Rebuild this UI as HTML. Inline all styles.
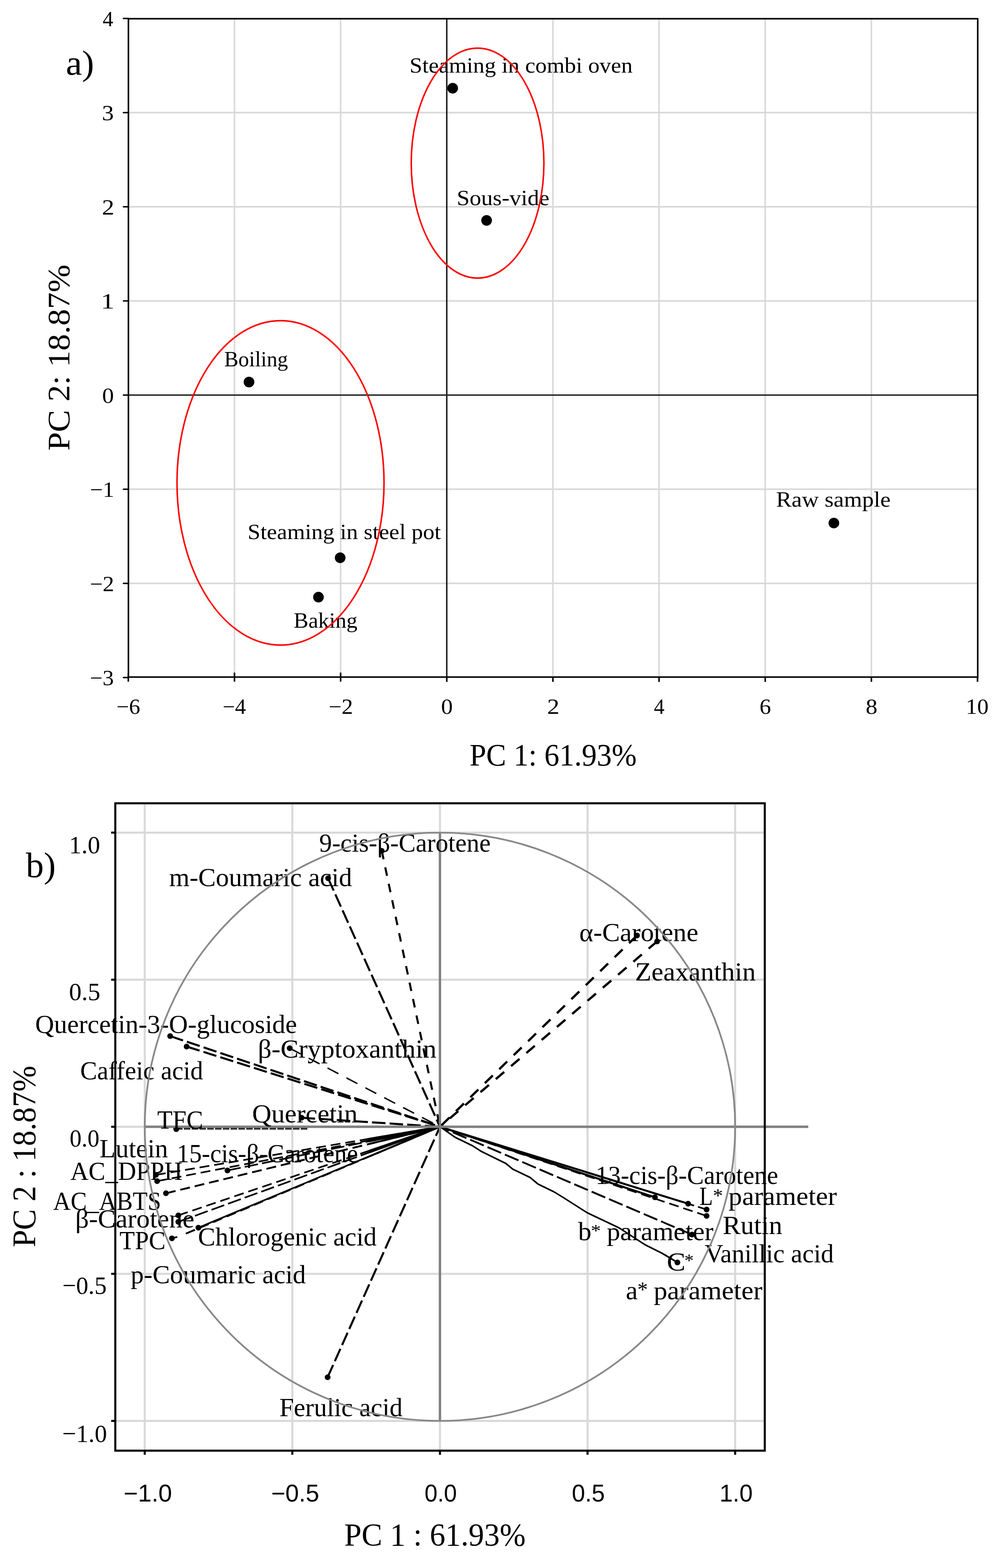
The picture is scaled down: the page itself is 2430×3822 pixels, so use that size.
<!DOCTYPE html>
<html><head><meta charset="utf-8"><style>
html,body{margin:0;padding:0;background:#fff;overflow:hidden;}
svg{display:block;}
</style></head><body>
<svg width="2430" height="3822" viewBox="0 0 2430 3822">
<rect width="2430" height="3822" fill="#fff"/>
<line x1="571.5" y1="45.7" x2="571.5" y2="1650.4" stroke="#d9d9d9" stroke-width="3.8"/>
<line x1="830.2" y1="45.7" x2="830.2" y2="1650.4" stroke="#d9d9d9" stroke-width="3.8"/>
<line x1="1347.6" y1="45.7" x2="1347.6" y2="1650.4" stroke="#d9d9d9" stroke-width="3.8"/>
<line x1="1606.3" y1="45.7" x2="1606.3" y2="1650.4" stroke="#d9d9d9" stroke-width="3.8"/>
<line x1="1865.1" y1="45.7" x2="1865.1" y2="1650.4" stroke="#d9d9d9" stroke-width="3.8"/>
<line x1="2123.8" y1="45.7" x2="2123.8" y2="1650.4" stroke="#d9d9d9" stroke-width="3.8"/>
<line x1="313.0" y1="274.5" x2="2383.0" y2="274.5" stroke="#d9d9d9" stroke-width="3.8"/>
<line x1="313.0" y1="504.0" x2="2383.0" y2="504.0" stroke="#d9d9d9" stroke-width="3.8"/>
<line x1="313.0" y1="733.5" x2="2383.0" y2="733.5" stroke="#d9d9d9" stroke-width="3.8"/>
<line x1="313.0" y1="1192.5" x2="2383.0" y2="1192.5" stroke="#d9d9d9" stroke-width="3.8"/>
<line x1="313.0" y1="1422.0" x2="2383.0" y2="1422.0" stroke="#d9d9d9" stroke-width="3.8"/>
<line x1="1088.9" y1="45.7" x2="1088.9" y2="1650.4" stroke="#222" stroke-width="3.7"/>
<line x1="313.0" y1="963.0" x2="2383.0" y2="963.0" stroke="#222" stroke-width="3.7"/>
<path d="M313 45.7 H2383 V1650.4 H313 Z" fill="none" stroke="#000" stroke-width="3.8"/>
<line x1="301.0" y1="1651.5" x2="313.0" y2="1651.5" stroke="#000" stroke-width="3.7" stroke-linecap="round"/>
<line x1="301.0" y1="1422.0" x2="313.0" y2="1422.0" stroke="#000" stroke-width="3.7" stroke-linecap="round"/>
<line x1="301.0" y1="1192.5" x2="313.0" y2="1192.5" stroke="#000" stroke-width="3.7" stroke-linecap="round"/>
<line x1="301.0" y1="963.0" x2="313.0" y2="963.0" stroke="#000" stroke-width="3.7" stroke-linecap="round"/>
<line x1="301.0" y1="733.5" x2="313.0" y2="733.5" stroke="#000" stroke-width="3.7" stroke-linecap="round"/>
<line x1="301.0" y1="504.0" x2="313.0" y2="504.0" stroke="#000" stroke-width="3.7" stroke-linecap="round"/>
<line x1="301.0" y1="274.5" x2="313.0" y2="274.5" stroke="#000" stroke-width="3.7" stroke-linecap="round"/>
<line x1="301.0" y1="45.0" x2="313.0" y2="45.0" stroke="#000" stroke-width="3.7" stroke-linecap="round"/>
<line x1="312.7" y1="1641.0" x2="312.7" y2="1660.0" stroke="#000" stroke-width="3.8" stroke-linecap="round"/>
<line x1="571.5" y1="1641.0" x2="571.5" y2="1660.0" stroke="#000" stroke-width="3.8" stroke-linecap="round"/>
<line x1="830.2" y1="1641.0" x2="830.2" y2="1660.0" stroke="#000" stroke-width="3.8" stroke-linecap="round"/>
<line x1="1088.9" y1="1650.0" x2="1088.9" y2="1662.0" stroke="#000" stroke-width="3.8"/>
<line x1="1347.6" y1="1650.0" x2="1347.6" y2="1662.0" stroke="#000" stroke-width="3.8"/>
<line x1="1606.3" y1="1650.0" x2="1606.3" y2="1662.0" stroke="#000" stroke-width="3.8"/>
<line x1="1865.1" y1="1650.0" x2="1865.1" y2="1662.0" stroke="#000" stroke-width="3.8"/>
<line x1="2123.8" y1="1650.0" x2="2123.8" y2="1662.0" stroke="#000" stroke-width="3.8"/>
<line x1="2382.5" y1="1650.0" x2="2382.5" y2="1662.0" stroke="#000" stroke-width="3.8"/>
<circle cx="1103.3" cy="215" r="13" fill="#000"/>
<circle cx="1186" cy="537.2" r="13" fill="#000"/>
<circle cx="606.9" cy="931.3" r="13" fill="#000"/>
<circle cx="829.1" cy="1359.6" r="13" fill="#000"/>
<circle cx="776.2" cy="1455.6" r="13" fill="#000"/>
<circle cx="2032.4" cy="1274.9" r="13" fill="#000"/>
<text x="998.2" y="176.8" font-size="53" font-family='"Liberation Serif", serif' textLength="543.6" lengthAdjust="spacingAndGlyphs" fill="#000">Steaming in combi oven</text>
<text x="1113.2" y="499.5" font-size="53" font-family='"Liberation Serif", serif' textLength="225.9" lengthAdjust="spacingAndGlyphs" fill="#000">Sous-vide</text>
<text x="546.5" y="892.5" font-size="53" font-family='"Liberation Serif", serif' textLength="155.5" lengthAdjust="spacingAndGlyphs" fill="#000">Boiling</text>
<text x="603.6" y="1314.3" font-size="53" font-family='"Liberation Serif", serif' textLength="470.9" lengthAdjust="spacingAndGlyphs" fill="#000">Steaming in steel pot</text>
<text x="715.8" y="1530.1" font-size="53" font-family='"Liberation Serif", serif' textLength="155.5" lengthAdjust="spacingAndGlyphs" fill="#000">Baking</text>
<text x="1891.4" y="1234.9" font-size="53" font-family='"Liberation Serif", serif' textLength="279.3" lengthAdjust="spacingAndGlyphs" fill="#000">Raw sample</text>
<text x="219.0" y="1670.4" font-size="52" font-family='"Liberation Serif", serif' textLength="58.4" lengthAdjust="spacingAndGlyphs" fill="#000">−3</text>
<text x="218.9" y="1440.9" font-size="52" font-family='"Liberation Serif", serif' textLength="59.3" lengthAdjust="spacingAndGlyphs" fill="#000">−2</text>
<text x="218.9" y="1211.4" font-size="52" font-family='"Liberation Serif", serif' textLength="59.6" lengthAdjust="spacingAndGlyphs" fill="#000">−1</text>
<text x="248.9" y="981.9" font-size="52" font-family='"Liberation Serif", serif' textLength="28.6" lengthAdjust="spacingAndGlyphs" fill="#000">0</text>
<text x="245.5" y="752.4" font-size="52" font-family='"Liberation Serif", serif' textLength="33.8" lengthAdjust="spacingAndGlyphs" fill="#000">1</text>
<text x="248.5" y="522.9" font-size="52" font-family='"Liberation Serif", serif' textLength="30.0" lengthAdjust="spacingAndGlyphs" fill="#000">2</text>
<text x="248.6" y="293.4" font-size="52" font-family='"Liberation Serif", serif' textLength="28.9" lengthAdjust="spacingAndGlyphs" fill="#000">3</text>
<text x="250.2" y="63.9" font-size="52" font-family='"Liberation Serif", serif' textLength="25.8" lengthAdjust="spacingAndGlyphs" fill="#000">4</text>
<text x="283.8" y="1740.3" font-size="52" font-family='"Liberation Serif", serif' textLength="57.8" lengthAdjust="spacingAndGlyphs" fill="#000">−6</text>
<text x="542.5" y="1740.3" font-size="52" font-family='"Liberation Serif", serif' textLength="56.9" lengthAdjust="spacingAndGlyphs" fill="#000">−4</text>
<text x="801.1" y="1740.3" font-size="52" font-family='"Liberation Serif", serif' textLength="59.3" lengthAdjust="spacingAndGlyphs" fill="#000">−2</text>
<text x="1075.1" y="1740.3" font-size="52" font-family='"Liberation Serif", serif' textLength="28.6" lengthAdjust="spacingAndGlyphs" fill="#000">0</text>
<text x="1333.4" y="1740.3" font-size="52" font-family='"Liberation Serif", serif' textLength="30.0" lengthAdjust="spacingAndGlyphs" fill="#000">2</text>
<text x="1593.8" y="1740.3" font-size="52" font-family='"Liberation Serif", serif' textLength="25.8" lengthAdjust="spacingAndGlyphs" fill="#000">4</text>
<text x="1851.3" y="1740.3" font-size="52" font-family='"Liberation Serif", serif' textLength="27.9" lengthAdjust="spacingAndGlyphs" fill="#000">6</text>
<text x="2110.0" y="1740.3" font-size="52" font-family='"Liberation Serif", serif' textLength="28.6" lengthAdjust="spacingAndGlyphs" fill="#000">8</text>
<text x="2354.0" y="1740.3" font-size="52" font-family='"Liberation Serif", serif' textLength="55.5" lengthAdjust="spacingAndGlyphs" fill="#000">10</text>
<text x="1144.4" y="1865.7" font-size="77" font-family='"Liberation Serif", serif' textLength="407.3" lengthAdjust="spacingAndGlyphs" fill="#000">PC 1: 61.93%</text>
<text transform="translate(169.1 1098.4) rotate(-90)" x="0" y="0" font-size="77" font-family='"Liberation Serif", serif' textLength="453.5" lengthAdjust="spacingAndGlyphs">PC 2: 18.87%</text>
<text x="160.4" y="182.3" font-size="85" font-family='"Liberation Serif", serif' textLength="69.1" lengthAdjust="spacingAndGlyphs" fill="#000">a)</text>
<ellipse cx="1164" cy="397.6" rx="161.7" ry="280.2" fill="none" stroke="#f00" stroke-width="3.7"/>
<ellipse cx="683.7" cy="1177" rx="252.3" ry="395.4" fill="none" stroke="#f00" stroke-width="3.7"/>
<line x1="352.8" y1="1958.0" x2="352.8" y2="3536.0" stroke="#d9d9d9" stroke-width="5"/>
<line x1="712.5" y1="1958.0" x2="712.5" y2="3536.0" stroke="#d9d9d9" stroke-width="5"/>
<line x1="1432.0" y1="1958.0" x2="1432.0" y2="3536.0" stroke="#d9d9d9" stroke-width="5"/>
<line x1="1791.8" y1="1958.0" x2="1791.8" y2="3536.0" stroke="#d9d9d9" stroke-width="5"/>
<line x1="281.0" y1="2029.5" x2="1864.0" y2="2029.5" stroke="#d9d9d9" stroke-width="5"/>
<line x1="281.0" y1="2388.0" x2="1864.0" y2="2388.0" stroke="#d9d9d9" stroke-width="5"/>
<line x1="281.0" y1="3105.0" x2="1864.0" y2="3105.0" stroke="#d9d9d9" stroke-width="5"/>
<line x1="281.0" y1="3463.5" x2="1864.0" y2="3463.5" stroke="#d9d9d9" stroke-width="5"/>
<line x1="1072.3" y1="1958.0" x2="1072.3" y2="3536.0" stroke="#d9d9d9" stroke-width="5"/>
<line x1="281.0" y1="2746.5" x2="1864.0" y2="2746.5" stroke="#d9d9d9" stroke-width="5"/>
<line x1="1072.3" y1="2746.5" x2="899.8" y2="2775.7" stroke="#000" stroke-width="4.5"/>
<line x1="1072.3" y1="2746.5" x2="899.9" y2="2779.6" stroke="#000" stroke-width="4.5"/>
<line x1="1072.3" y1="2746.5" x2="899.9" y2="2782.0" stroke="#000" stroke-width="4.5"/>
<line x1="1072.3" y1="2746.5" x2="899.9" y2="2788.4" stroke="#000" stroke-width="4.5"/>
<line x1="1072.3" y1="2746.5" x2="899.9" y2="2804.9" stroke="#000" stroke-width="4.5"/>
<line x1="1072.3" y1="2746.5" x2="899.9" y2="2809.2" stroke="#000" stroke-width="4.5"/>
<line x1="1072.3" y1="2746.5" x2="899.9" y2="2819.0" stroke="#000" stroke-width="4.5"/>
<polyline points="1072,2746 1109,2772 1152,2793 1172,2806 1233,2836 1250,2850 1292,2870 1311,2886 1350,2905 1373,2919 1431,2956 1509,2993 1572,3034 1614,3055 1651,3077" fill="none" stroke="#000" stroke-width="3.8" stroke-linejoin="round"/>
<circle cx="1651" cy="3077.2" r="7" fill="#000"/>
<line x1="453.0" y1="3007.0" x2="1072.3" y2="2746.5" stroke="#000" stroke-width="4.5" stroke-dasharray="24 12"/>
<line x1="419.0" y1="3018.4" x2="432.0" y2="3015.0" stroke="#000" stroke-width="4"/>
<circle cx="419" cy="3018.4" r="7" fill="#000"/>
<line x1="429.0" y1="2751.0" x2="752.0" y2="2751.0" stroke="#2a2a2a" stroke-width="5" stroke-dasharray="16 3"/>
<circle cx="429.6" cy="2752.3" r="7" fill="#000"/>
<line x1="930.5" y1="2074.0" x2="1072.3" y2="2746.5" stroke="#000" stroke-width="5" stroke-dasharray="21 20"/>
<circle cx="930.5" cy="2074" r="7" fill="#000"/>
<line x1="799.7" y1="2140.7" x2="1072.3" y2="2746.5" stroke="#000" stroke-width="5" stroke-dasharray="33 10"/>
<circle cx="799.7" cy="2140.7" r="7" fill="#000"/>
<line x1="1552.6" y1="2280.2" x2="1072.3" y2="2746.5" stroke="#000" stroke-width="5.5" stroke-dasharray="27 22"/>
<circle cx="1552.6" cy="2280.2" r="7" fill="#000"/>
<line x1="1601.6" y1="2294.7" x2="1072.3" y2="2746.5" stroke="#000" stroke-width="5.5" stroke-dasharray="27 22"/>
<circle cx="1601.6" cy="2294.7" r="7" fill="#000"/>
<line x1="414.7" y1="2525.5" x2="1072.3" y2="2746.5" stroke="#000" stroke-width="5" stroke-dasharray="33 10"/>
<circle cx="414.7" cy="2525.5" r="7" fill="#000"/>
<line x1="454.9" y1="2551.0" x2="1072.3" y2="2746.5" stroke="#000" stroke-width="5" stroke-dasharray="33 10"/>
<circle cx="454.9" cy="2551" r="7" fill="#000"/>
<line x1="706.1" y1="2555.1" x2="1072.3" y2="2746.5" stroke="#000" stroke-width="3.5" stroke-dasharray="30 22"/>
<circle cx="706.1" cy="2555.1" r="7" fill="#000"/>
<line x1="735.0" y1="2724.5" x2="1072.3" y2="2746.5" stroke="#000" stroke-width="5" stroke-dasharray="33 10"/>
<circle cx="735" cy="2724.5" r="7" fill="#000"/>
<line x1="380.0" y1="2863.8" x2="1072.3" y2="2746.5" stroke="#000" stroke-width="4" stroke-dasharray="24 12"/>
<circle cx="380" cy="2863.8" r="7" fill="#000"/>
<line x1="383.0" y1="2879.0" x2="1072.3" y2="2746.5" stroke="#000" stroke-width="4" stroke-dasharray="24 12"/>
<circle cx="383" cy="2879" r="7" fill="#000"/>
<line x1="554.3" y1="2853.0" x2="1072.3" y2="2746.5" stroke="#000" stroke-width="4" stroke-dasharray="33 10"/>
<circle cx="554.3" cy="2853" r="7" fill="#000"/>
<line x1="404.5" y1="2908.6" x2="1072.3" y2="2746.5" stroke="#000" stroke-width="4.5" stroke-dasharray="24 12"/>
<circle cx="404.5" cy="2908.6" r="7" fill="#000"/>
<line x1="434.7" y1="2962.4" x2="1072.3" y2="2746.5" stroke="#000" stroke-width="4" stroke-dasharray="24 12"/>
<circle cx="434.7" cy="2962.4" r="7" fill="#000"/>
<line x1="434.7" y1="2978.2" x2="1072.3" y2="2746.5" stroke="#000" stroke-width="4" stroke-dasharray="33 10"/>
<circle cx="434.7" cy="2978.2" r="7" fill="#000"/>
<line x1="483.5" y1="2992.5" x2="1072.3" y2="2746.5" stroke="#000" stroke-width="4"/>
<circle cx="483.5" cy="2992.5" r="7" fill="#000"/>
<line x1="798.5" y1="3357.1" x2="1072.3" y2="2746.5" stroke="#000" stroke-width="5" stroke-dasharray="33 10"/>
<circle cx="798.5" cy="3357.1" r="7" fill="#000"/>
<line x1="1596.2" y1="2918.4" x2="1072.3" y2="2746.5" stroke="#000" stroke-width="4.8"/>
<circle cx="1596.2" cy="2918.4" r="7" fill="#000"/>
<line x1="1677.2" y1="2934.0" x2="1072.3" y2="2746.5" stroke="#000" stroke-width="4.8"/>
<circle cx="1677.2" cy="2934" r="7" fill="#000"/>
<line x1="1722.2" y1="2948.2" x2="1072.3" y2="2746.5" stroke="#000" stroke-width="4" stroke-dasharray="22 10"/>
<circle cx="1722.2" cy="2948.2" r="7" fill="#000"/>
<line x1="1722.2" y1="2963.8" x2="1072.3" y2="2746.5" stroke="#000" stroke-width="4" stroke-dasharray="24 12"/>
<circle cx="1722.2" cy="2963.8" r="7" fill="#000"/>
<line x1="1686.6" y1="3009.3" x2="1072.3" y2="2746.5" stroke="#000" stroke-width="4.5" stroke-dasharray="36 10"/>
<circle cx="1686.6" cy="3009.3" r="7" fill="#000"/>
<line x1="352.8" y1="2746.5" x2="1970.0" y2="2746.5" stroke="#808080" stroke-width="5.8"/>
<line x1="1072.3" y1="2029.5" x2="1072.3" y2="3463.5" stroke="#808080" stroke-width="5.8"/>
<text x="778.1" y="2076.0" font-size="62.5" font-family='"Liberation Serif", serif' textLength="417.8" lengthAdjust="spacingAndGlyphs" fill="#000">9-cis-β-Carotene</text>
<text x="412.3" y="2159.5" font-size="62.5" font-family='"Liberation Serif", serif' textLength="445.6" lengthAdjust="spacingAndGlyphs" fill="#000">m-Coumaric acid</text>
<text x="1412.1" y="2293.5" font-size="62.5" font-family='"Liberation Serif", serif' textLength="289.9" lengthAdjust="spacingAndGlyphs" fill="#000">α-Carotene</text>
<text x="1547.7" y="2389.5" font-size="62.5" font-family='"Liberation Serif", serif' textLength="294.2" lengthAdjust="spacingAndGlyphs" fill="#000">Zeaxanthin</text>
<text x="85.7" y="2517.5" font-size="62.5" font-family='"Liberation Serif", serif' textLength="638.2" lengthAdjust="spacingAndGlyphs" fill="#000">Quercetin-3-O-glucoside</text>
<text x="628.4" y="2578.0" font-size="62.5" font-family='"Liberation Serif", serif' textLength="435.6" lengthAdjust="spacingAndGlyphs" fill="#000">β-Cryptoxanthin</text>
<text x="195.6" y="2631.3" font-size="62.5" font-family='"Liberation Serif", serif' textLength="299.4" lengthAdjust="spacingAndGlyphs" fill="#000">Caffeic acid</text>
<text x="383.3" y="2751.0" font-size="62.5" font-family='"Liberation Serif", serif' textLength="111.8" lengthAdjust="spacingAndGlyphs" fill="#000">TFC</text>
<text x="614.4" y="2736.4" font-size="62.5" font-family='"Liberation Serif", serif' textLength="257.1" lengthAdjust="spacingAndGlyphs" fill="#000">Quercetin</text>
<text x="242.6" y="2820.8" font-size="62.5" font-family='"Liberation Serif", serif' textLength="167.0" lengthAdjust="spacingAndGlyphs" fill="#000">Lutein</text>
<text x="430.7" y="2833.0" font-size="62.5" font-family='"Liberation Serif", serif' textLength="441.9" lengthAdjust="spacingAndGlyphs" fill="#000">15-cis-β-Carotene</text>
<text x="171.4" y="2875.7" font-size="62.5" font-family='"Liberation Serif", serif' textLength="273.2" lengthAdjust="spacingAndGlyphs" fill="#000">AC_DPPH</text>
<text x="129.4" y="2948.9" font-size="62.5" font-family='"Liberation Serif", serif' textLength="263.2" lengthAdjust="spacingAndGlyphs" fill="#000">AC_ABTS</text>
<text x="183.6" y="2991.7" font-size="62.5" font-family='"Liberation Serif", serif' textLength="290.1" lengthAdjust="spacingAndGlyphs" fill="#000">β-Carotene</text>
<text x="291.3" y="3044.5" font-size="62.5" font-family='"Liberation Serif", serif' textLength="112.3" lengthAdjust="spacingAndGlyphs" fill="#000">TPC</text>
<text x="482.5" y="3036.4" font-size="62.5" font-family='"Liberation Serif", serif' textLength="435.6" lengthAdjust="spacingAndGlyphs" fill="#000">Chlorogenic acid</text>
<text x="318.5" y="3127.5" font-size="62.5" font-family='"Liberation Serif", serif' textLength="426.9" lengthAdjust="spacingAndGlyphs" fill="#000">p-Coumaric acid</text>
<text x="680.9" y="3451.9" font-size="62.5" font-family='"Liberation Serif", serif' textLength="300.2" lengthAdjust="spacingAndGlyphs" fill="#000">Ferulic acid</text>
<text x="1451.5" y="2885.5" font-size="62.5" font-family='"Liberation Serif", serif' textLength="445.2" lengthAdjust="spacingAndGlyphs" fill="#000">13-cis-β-Carotene</text>
<text x="1704.8" y="2937.1" font-size="62.5" font-family='"Liberation Serif", serif' textLength="32.8" lengthAdjust="spacingAndGlyphs" fill="#000">L</text>
<text x="1737.5" y="2930.3" font-size="47.1" font-family='"Liberation Serif", serif' textLength="24.7" lengthAdjust="spacingAndGlyphs" fill="#000">*</text>
<text x="1775.6" y="2937.1" font-size="62.5" font-family='"Liberation Serif", serif' textLength="264.3" lengthAdjust="spacingAndGlyphs" fill="#000">parameter</text>
<text x="1761.4" y="3008.0" font-size="62.5" font-family='"Liberation Serif", serif' textLength="145.4" lengthAdjust="spacingAndGlyphs" fill="#000">Rutin</text>
<text x="1408.9" y="3022.9" font-size="62.5" font-family='"Liberation Serif", serif' textLength="32.5" lengthAdjust="spacingAndGlyphs" fill="#000">b</text>
<text x="1439.8" y="3013.8" font-size="41.6" font-family='"Liberation Serif", serif' textLength="25.0" lengthAdjust="spacingAndGlyphs" fill="#000">*</text>
<text x="1479.0" y="3022.9" font-size="62.5" font-family='"Liberation Serif", serif' textLength="260.0" lengthAdjust="spacingAndGlyphs" fill="#000">parameter</text>
<text x="1625.3" y="3097.0" font-size="62.5" font-family='"Liberation Serif", serif' textLength="45.5" lengthAdjust="spacingAndGlyphs" fill="#000">C</text>
<text x="1668.1" y="3086.6" font-size="45.2" font-family='"Liberation Serif", serif' textLength="22.9" lengthAdjust="spacingAndGlyphs" fill="#000">*</text>
<text x="1717.4" y="3077.0" font-size="62.5" font-family='"Liberation Serif", serif' textLength="314.8" lengthAdjust="spacingAndGlyphs" fill="#000">Vanillic acid</text>
<text x="1525.3" y="3166.9" font-size="62.5" font-family='"Liberation Serif", serif' textLength="29.1" lengthAdjust="spacingAndGlyphs" fill="#000">a</text>
<text x="1553.4" y="3160.6" font-size="52.9" font-family='"Liberation Serif", serif' textLength="25.5" lengthAdjust="spacingAndGlyphs" fill="#000">*</text>
<text x="1593.2" y="3166.9" font-size="62.5" font-family='"Liberation Serif", serif' textLength="265.3" lengthAdjust="spacingAndGlyphs" fill="#000">parameter</text>
<text x="168.3" y="2079.7" font-size="62" font-family='"Liberation Serif", serif' textLength="75.8" lengthAdjust="spacingAndGlyphs" fill="#000">1.0</text>
<text x="168.2" y="2438.0" font-size="62" font-family='"Liberation Serif", serif' textLength="76.3" lengthAdjust="spacingAndGlyphs" fill="#000">0.5</text>
<text x="169.7" y="2795.4" font-size="62" font-family='"Liberation Serif", serif' textLength="72.6" lengthAdjust="spacingAndGlyphs" fill="#000">0.0</text>
<text x="151.9" y="3154.3" font-size="62" font-family='"Liberation Serif", serif' textLength="108.1" lengthAdjust="spacingAndGlyphs" fill="#000">−0.5</text>
<text x="151.7" y="3515.2" font-size="62" font-family='"Liberation Serif", serif' textLength="109.0" lengthAdjust="spacingAndGlyphs" fill="#000">−1.0</text>
<text x="301.3" y="3660.3" font-size="58.6" font-family='"Liberation Sans", sans-serif' textLength="117.9" lengthAdjust="spacingAndGlyphs" fill="#000">−1.0</text>
<text x="661.0" y="3660.3" font-size="58.6" font-family='"Liberation Sans", sans-serif' textLength="117.0" lengthAdjust="spacingAndGlyphs" fill="#000">−0.5</text>
<text x="1034.7" y="3660.3" font-size="58.6" font-family='"Liberation Sans", sans-serif' textLength="78.8" lengthAdjust="spacingAndGlyphs" fill="#000">0.0</text>
<text x="1393.7" y="3660.3" font-size="58.6" font-family='"Liberation Sans", sans-serif' textLength="80.7" lengthAdjust="spacingAndGlyphs" fill="#000">0.5</text>
<text x="1753.8" y="3660.3" font-size="58.6" font-family='"Liberation Sans", sans-serif' textLength="80.8" lengthAdjust="spacingAndGlyphs" fill="#000">1.0</text>
<text x="839.0" y="3766.8" font-size="79" font-family='"Liberation Serif", serif' textLength="442.0" lengthAdjust="spacingAndGlyphs" fill="#000">PC 1 : 61.93%</text>
<text transform="translate(85.8 3040.1) rotate(-90)" x="0" y="0" font-size="80" font-family='"Liberation Serif", serif' textLength="442.4" lengthAdjust="spacingAndGlyphs">PC 2 : 18.87%</text>
<text x="63.0" y="2138.2" font-size="86" font-family='"Liberation Serif", serif' textLength="72.8" lengthAdjust="spacingAndGlyphs" fill="#000">b)</text>
<ellipse cx="1072.3" cy="2746.5" rx="719.5" ry="717" fill="none" stroke="#888" stroke-width="4.2"/>
<path d="M281 1958 H1864 V3536 H281 Z" fill="none" stroke="#000" stroke-width="5"/>
<line x1="271.0" y1="2029.5" x2="281.0" y2="2029.5" stroke="#000" stroke-width="5"/>
<line x1="1791.8" y1="3536.0" x2="1791.8" y2="3546.0" stroke="#000" stroke-width="5"/>
<line x1="271.0" y1="2388.0" x2="281.0" y2="2388.0" stroke="#000" stroke-width="5"/>
<line x1="1432.0" y1="3536.0" x2="1432.0" y2="3546.0" stroke="#000" stroke-width="5"/>
<line x1="271.0" y1="2746.5" x2="281.0" y2="2746.5" stroke="#000" stroke-width="5"/>
<line x1="1072.3" y1="3536.0" x2="1072.3" y2="3546.0" stroke="#000" stroke-width="5"/>
<line x1="271.0" y1="3105.0" x2="281.0" y2="3105.0" stroke="#000" stroke-width="5"/>
<line x1="712.5" y1="3536.0" x2="712.5" y2="3546.0" stroke="#000" stroke-width="5"/>
<line x1="271.0" y1="3463.5" x2="281.0" y2="3463.5" stroke="#000" stroke-width="5"/>
<line x1="352.8" y1="3536.0" x2="352.8" y2="3546.0" stroke="#000" stroke-width="5"/>
</svg>
</body></html>
